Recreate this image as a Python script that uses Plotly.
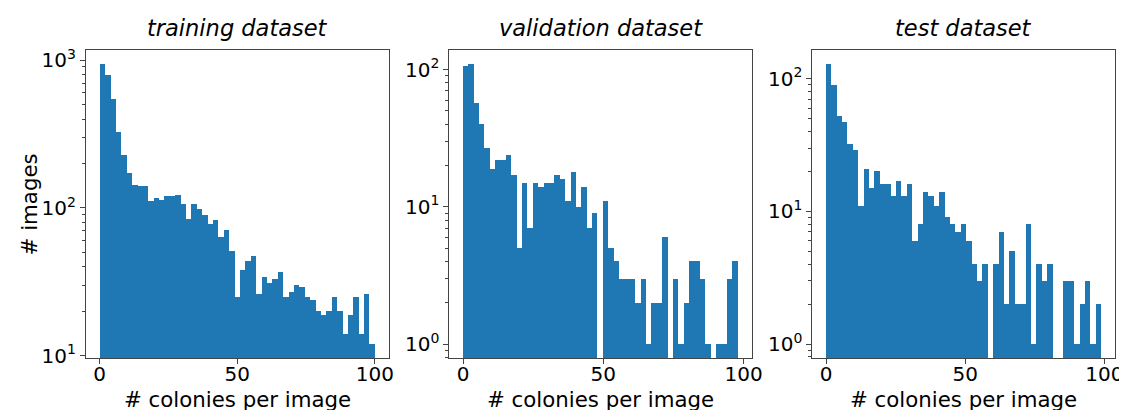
import numpy as np
import plotly.graph_objects as go

# ---- data (counts per bin, 51 equal bins from 0 to max value) ----
titles = ["training dataset", "validation dataset", "test dataset"]
x_label = "# colonies per image"
y_label = "# images"

train_counts = [943, 791, 543, 328, 227, 173, 144, 141, 141, 111, 117, 114, 120, 121, 122, 107, 84,
                107, 98, 90, 78, 83, 64, 71, 51, 25, 38, 44, 47, 26, 34, 31, 33, 37, 25, 27, 30, 29,
                25, 24, 20, 19, 20, 25, 20, 14, 19, 25, 14, 26, 12]
val_counts = [107, 110, 57, 40, 27, 19, 22, 22, 24, 17, 5, 15, 7, 15, 14, 15, 15, 17, 16, 11, 18, 10,
              14, 7, 9, 0, 11, 5, 4, 3, 3, 3, 2, 3, 1, 2, 2, 6, 0, 3, 1, 2, 4, 4, 3, 1, 0, 1, 1, 3, 4]
test_counts = [129, 89, 52, 47, 32, 29, 11, 21, 15, 20, 16, 16, 13, 17, 13, 16, 6, 8, 14, 13, 11, 14,
               9, 8, 7, 8, 6, 4, 3, 4, 0, 4, 7, 2, 5, 2, 2, 8, 1, 4, 3, 4, 0, 0, 3, 3, 1, 2, 3, 1, 2]
x_max = [100, 98, 99]
x_ticks = [0, 50, 100]

all_counts = [train_counts, val_counts, test_counts]

W, H = 1127, 410
x_domains = [(78.7, 384.3), (445.7, 751.0), (812.3, 1118.3)]
y_top, y_bot = 39.3, 358.3
bar_color = "#1f77b4"
axis_color = "#444444"
font_family = "DejaVu Sans"
tick_size = 20
label_size = 21.3
title_size = 22.5

fig = go.Figure()
annotations = []

for i, (counts, xm) in enumerate(zip(all_counts, x_max)):
    n = len(counts)
    edges = np.linspace(0, xm, n + 1)
    widths = np.diff(edges)
    yvals = [c if c > 0 else None for c in counts]
    sfx = "" if i == 0 else str(i + 1)
    fig.add_trace(go.Bar(
        x=edges[:-1], y=yvals, width=widths, offset=0,
        marker=dict(color=bar_color, line=dict(width=0)),
        xaxis="x" + sfx, yaxis="y" + sfx, showlegend=False,
    ))

    # matplotlib-like autoscale with 5% margins (log in y)
    xpad = 0.05 * xm
    pos = [c for c in counts if c > 0]
    lo, hi = np.log10(min(pos)), np.log10(max(pos))
    ypad = 0.05 * (hi - lo)
    yr = [lo - ypad, hi + ypad]

    dec_lo, dec_hi = int(np.ceil(yr[0])), int(np.floor(yr[1]))
    major = [10 ** k for k in range(dec_lo, dec_hi + 1)]
    major_text = ["10<sup>%d</sup>" % k for k in range(dec_lo, dec_hi + 1)]
    minor = []
    for k in range(int(np.floor(yr[0])), int(np.ceil(yr[1])) + 1):
        for m in range(2, 10):
            v = m * 10 ** k
            if yr[0] <= np.log10(v) <= yr[1]:
                minor.append(v)

    x0, x1 = x_domains[i]
    xa = dict(
        domain=[x0 / W, x1 / W], anchor="y" + sfx,
        range=[-xpad, xm + xpad], tickmode="array", tickvals=x_ticks,
        ticks="outside", ticklen=5, tickwidth=1, tickcolor=axis_color,
        ticklabelstandoff=-7,
        showline=True, linecolor=axis_color, linewidth=1, mirror=True,
        showgrid=False, zeroline=False,
        tickfont=dict(family=font_family, size=tick_size, color="black"),
    )
    ya = dict(
        domain=[1 - y_bot / H, 1 - y_top / H], anchor="x" + sfx,
        type="log", range=yr, tickmode="array", tickvals=major, ticktext=major_text,
        ticks="outside", ticklen=5, tickwidth=1, tickcolor=axis_color,
        minor=dict(tickmode="array", tickvals=minor, ticks="outside", ticklen=3,
                   tickwidth=0.8, tickcolor=axis_color, showgrid=False),
        showline=True, linecolor=axis_color, linewidth=1, mirror=True,
        showgrid=False, zeroline=False,
        tickfont=dict(family=font_family, size=tick_size, color="black"),
    )
    fig.layout["xaxis" + sfx] = xa
    fig.layout["yaxis" + sfx] = ya

    cx = (x0 + x1) / 2 / W
    annotations.append(dict(
        text="<i>%s</i>" % titles[i], x=cx, y=1 - 32 / H, xref="paper", yref="paper",
        xanchor="center", yanchor="bottom", showarrow=False,
        font=dict(family=font_family, size=title_size, color="black"),
    ))
    annotations.append(dict(
        text=x_label, x=cx, y=1 - 386 / H, xref="paper", yref="paper",
        xanchor="center", yanchor="top", showarrow=False,
        font=dict(family=font_family, size=label_size, color="black"),
    ))

annotations.append(dict(
    text=y_label, x=7 / W, y=1 - ((y_top + y_bot) / 2) / H, xref="paper", yref="paper",
    xanchor="left", yanchor="middle", textangle=-90, showarrow=False,
    font=dict(family=font_family, size=label_size, color="black"),
))

fig.update_layout(
    width=W, height=H, autosize=False,
    margin=dict(l=0, r=0, t=0, b=0, pad=0),
    paper_bgcolor="white", plot_bgcolor="white",
    bargap=0, annotations=annotations,
    font=dict(family=font_family, color="black"),
)

fig.write_html("out.html")
